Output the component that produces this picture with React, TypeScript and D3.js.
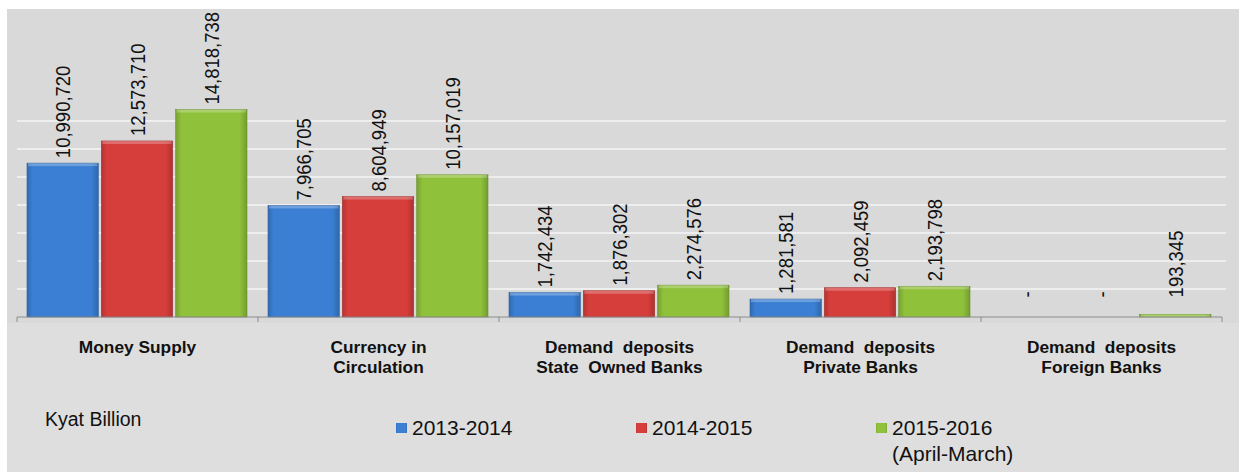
import React from 'react';
import * as d3 from 'd3';

const categories = [
  ['Money Supply'],
  ['Currency in', 'Circulation'],
  ['Demand  deposits', 'State  Owned Banks'],
  ['Demand  deposits', 'Private Banks'],
  ['Demand  deposits', 'Foreign Banks'],
];
const seriesNames = ['2013-2014', '2014-2015', '2015-2016'];
const seriesColors = ['#3a7fd3', '#d63e3c', '#8fc13b'];
// values as printed on the chart
const values2013 = [10990720, 7966705, 1742434, 1281581, 0];
const values2014 = [12573710, 8604949, 1876302, 2092459, 0];
const values2015 = [14818738, 10157019, 2274576, 2193798, 193345];
const gridTicks = [2000000, 4000000, 6000000, 8000000, 10000000, 12000000, 14000000];

const W = 1239;
const H = 472;
const baseY = 317;
const font = '"Liberation Sans", Arial, sans-serif';

export default function App() {
  const series = [values2013, values2014, values2015];
  const catKeys = categories.map((c, i) => String(i));

  const x0 = d3.scaleBand().domain(catKeys).range([17, 1222]).padding(0);
  const x1 = d3.scaleBand().domain(seriesNames).range([10, 230]).paddingInner(0.04);
  const y = d3.scaleLinear().domain([0, 22000000]).range([baseY, 9]);
  const fmt = d3.format(',');
  const minLabelY = y(1400000);

  return (
    <svg width={W} height={H} style={{ position: 'absolute', left: 0, top: 0 }} fontFamily={font}>
      <defs>
        {seriesColors.map((c, i) => (
          <linearGradient key={i} id={`g${i}`} x1="0" x2="1" y1="0" y2="0">
            <stop offset="0" stopColor={d3.color(c)!.darker(0.5).toString()} />
            <stop offset="0.08" stopColor={c} />
            <stop offset="0.9" stopColor={c} />
            <stop offset="1" stopColor={d3.color(c)!.darker(0.6).toString()} />
          </linearGradient>
        ))}
      </defs>
      <rect x={0} y={0} width={W} height={H} fill="#ffffff" />
      <rect x={7} y={9} width={W - 7} height={H - 9} fill="#d9d9d9" />
      <rect x={7} y={baseY + 6} width={W - 7} height={H - baseY - 6} fill="#dedede" />

      {gridTicks.map(t => (
        <line key={t} x1={17} x2={1226} y1={y(t)} y2={y(t)} stroke="#f4f4f4" strokeWidth={1.5} />
      ))}

      {series.map((vals, si) =>
        vals.map((v, ci) => {
          const bx = (x0(catKeys[ci]) || 0) + (x1(seriesNames[si]) || 0);
          const bw = x1.bandwidth();
          const top = y(v);
          return v > 0 ? (
            <g key={`${si}-${ci}`}>
              <rect x={bx} y={top} width={bw} height={baseY - top} fill={`url(#g${si})`}
                stroke={d3.color(seriesColors[si])!.darker(0.8).toString()} strokeWidth={0.6} />
              <rect x={bx + 1} y={top} width={bw - 2} height={Math.min(3, baseY - top)}
                fill="#ffffff" opacity={0.25} />
            </g>
          ) : null;
        })
      )}

      {series.map((vals, si) =>
        vals.map((v, ci) => {
          const cx = (x0(catKeys[ci]) || 0) + (x1(seriesNames[si]) || 0) + x1.bandwidth() / 2;
          const ly = Math.min(y(v) - 5, minLabelY);
          return (
            <text key={`l${si}-${ci}`} transform={`translate(${cx + 7.5},${ly}) rotate(-90) scale(1,1.12)`}
              fontSize={18.5} fill="#111" textAnchor="start">
              {v > 0 ? fmt(v) : '-'}
            </text>
          );
        })
      )}

      <line x1={17} x2={1222} y1={baseY} y2={baseY} stroke="#8c8c8c" strokeWidth={1} />
      {[...catKeys.map(k => x0(k) || 0), 1222].map((tx, i) => (
        <line key={`t${i}`} x1={tx} x2={tx} y1={baseY} y2={baseY + 5} stroke="#8c8c8c" strokeWidth={1} />
      ))}

      {categories.map((lines, ci) => {
        const cx = (x0(catKeys[ci]) || 0) + x0.bandwidth() / 2;
        return (
          <text key={`c${ci}`} transform={`translate(${cx},353) scale(1.05,1)`}
            textAnchor="middle" fontWeight="bold" fontSize={16.5} fill="#111" style={{ whiteSpace: 'pre' }}>
            {lines.map((ln, li) => (
              <tspan key={li} x={0} y={li * 20}>{ln}</tspan>
            ))}
          </text>
        );
      })}

      <text x={45} y={426} fontSize={19.5} fill="#111">Kyat Billion</text>

      {seriesNames.map((name, si) => {
        const lx = [396, 636, 876][si];
        return (
          <g key={name}>
            <rect x={lx} y={423} width={11} height={10} fill={`url(#g${si})`} />
            <text x={lx + 16} y={435} fontSize={21} fill="#111">{name}</text>
            {si === 2 && <text x={lx + 16} y={461} fontSize={21} fill="#111">(April-March)</text>}
          </g>
        );
      })}
    </svg>
  );
}
